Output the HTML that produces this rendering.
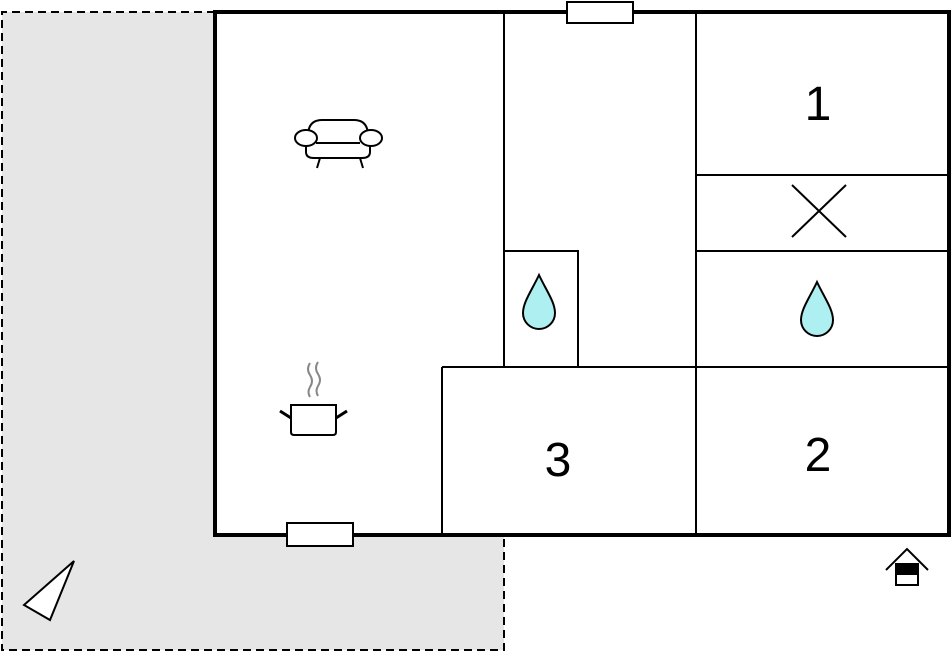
<!DOCTYPE html>
<html><head><style>body{margin:0;background:#fff}svg{display:block}</style></head><body>
<svg width="951" height="652" viewBox="0 0 951 652" xmlns="http://www.w3.org/2000/svg">
<path d="M2,12 H215 V535 H504 V650 H2 Z" fill="#e6e6e6"/>
<path d="M215,12 H2 V650 H504 V535" fill="none" stroke="#000" stroke-width="2" stroke-dasharray="8,5"/>
<rect x="215" y="12" width="734" height="523" fill="#fff" stroke="#000" stroke-width="4"/>
<g stroke="#000" stroke-width="2" fill="none">
<line x1="504" y1="12" x2="504" y2="367"/>
<line x1="696" y1="12" x2="696" y2="535"/>
<line x1="696" y1="175" x2="949" y2="175"/>
<line x1="696" y1="251" x2="949" y2="251"/>
<line x1="442" y1="367" x2="949" y2="367"/>
<line x1="442" y1="367" x2="442" y2="535"/>
<path d="M504,251 H578 V367"/>
<line x1="792" y1="185" x2="846" y2="237"/>
<line x1="846" y1="185" x2="792" y2="237"/>
</g>
<rect x="567" y="2" width="66" height="21" fill="#fff" stroke="#000" stroke-width="2"/>
<rect x="287" y="523" width="66" height="23" fill="#fff" stroke="#000" stroke-width="2"/>
<g font-family="Liberation Sans, sans-serif" font-size="48" text-anchor="middle">
<text x="818" y="120">1</text>
<text x="818" y="471">2</text>
<text x="558" y="476">3</text>
</g>
<g fill="#aef0f2" stroke="#000" stroke-width="2">
<path d="M539,275 C532,290 523,302 523,313 A16,16 0 0 0 555,313 C555,302 546,290 539,275 Z"/>
<path d="M817,282 C810,297 801,309 801,320 A16,16 0 0 0 833,320 C833,309 824,297 817,282 Z"/>
</g>
<!-- sofa -->
<g stroke="#000" stroke-width="2" fill="#fff">
<path d="M308,136 Q308,120 322,120 H354 Q368,120 368,136"/>
<path d="M306,142 V152 Q306,158 314,158 H362 Q370,158 370,152 V142"/>
<line x1="316" y1="143" x2="360" y2="143"/>
<ellipse cx="306" cy="138" rx="11" ry="8"/>
<ellipse cx="371" cy="138" rx="11" ry="8"/>
<line x1="320" y1="158" x2="317" y2="168"/>
<line x1="360" y1="158" x2="363" y2="168"/>
</g>
<!-- pot -->
<g fill="none">
<path d="M310,363 q-4,6 0,12 q4,6 0,12 q-3,5 0,10" stroke="#888" stroke-width="2"/>
<path d="M318,362 q-4,6 0,12 q4,6 0,12 q-3,5 0,10" stroke="#888" stroke-width="2"/>
<path d="M291,405 V432 Q291,435 294,435 H333 Q336,435 336,432 V405 Z" stroke="#000" stroke-width="2" fill="#fff"/>
<line x1="280" y1="411" x2="291" y2="418" stroke="#000" stroke-width="3"/>
<line x1="347" y1="411" x2="336" y2="418" stroke="#000" stroke-width="3"/>
</g>
<!-- entrance -->
<g stroke="#000" stroke-width="2" fill="none">
<path d="M886,570 L907,549 L928,570"/>
<rect x="896" y="564" width="22" height="21" fill="#fff"/>
<rect x="896" y="564" width="22" height="10" fill="#000"/>
</g>
<polygon points="24,605 74,561 50,620" fill="#fff" stroke="#000" stroke-width="2"/>
</svg>
</body></html>
